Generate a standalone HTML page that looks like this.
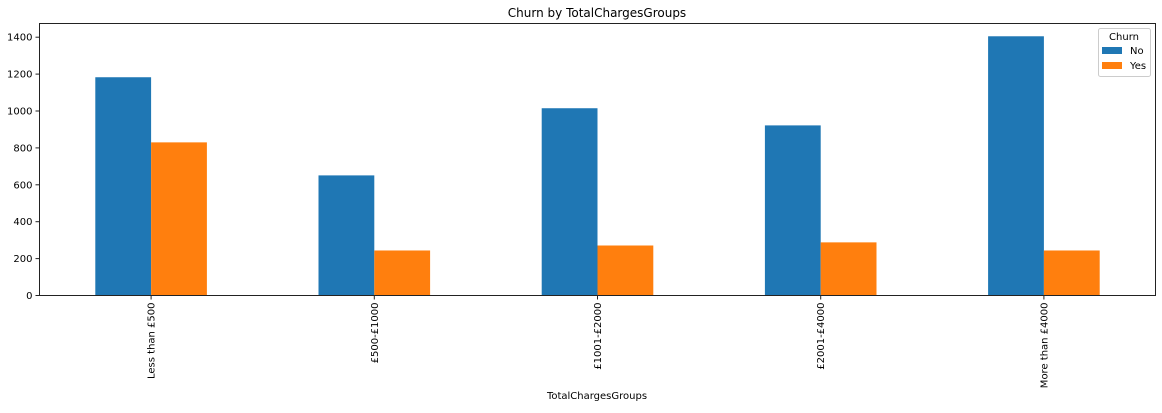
<!DOCTYPE html>
<html><head><meta charset="utf-8"><style>
body{margin:0;background:#fff;font-family:"Liberation Sans","DejaVu Sans",sans-serif;}
svg text{font-family:"DejaVu Sans","Liberation Sans",sans-serif;}
</style></head><body>
<svg id="chart" width="1162" height="408" xmlns="http://www.w3.org/2000/svg">
<text x="597" y="17" text-anchor="middle" font-size="12">Churn by TotalChargesGroups</text>
<text x="597" y="399" text-anchor="middle" font-size="10">TotalChargesGroups</text>
<g id="marks"></g>
<rect x="39.5" y="23.5" width="1116" height="272" fill="none" stroke="#222" stroke-width="1"/>
<g>
<rect x="1098.5" y="28.5" width="52" height="48" rx="2" fill="#fff" stroke="#ccc"/>
<text x="1124" y="40" text-anchor="middle" font-size="10">Churn</text>
<rect x="1102" y="47" width="20" height="7" fill="#1f77b4"/>
<text x="1130" y="54" font-size="10">No</text>
<rect x="1102" y="62" width="20" height="7" fill="#ff7f0e"/>
<text x="1130" y="69" font-size="10">Yes</text>
</g>
</svg>
<script>
const categories=["Less than £500","£500-£1000","£1001-£2000","£2001-£4000","More than £4000"];
const noValues=[1183,651,1015,922,1405];
const yesValues=[830,244,271,288,244];
const yTicks=[0,200,400,600,800,1000,1200,1400];
const X0=39.5,W=1116,Y0=295.5,PX=36.9/200;
const svg=document.getElementById('marks');
const NS='http://www.w3.org/2000/svg';
const step=W/categories.length,bw=step*0.25;
const xc=i=>X0+step*(i+0.5);
const y=v=>Y0-v*PX;
function mk(t,a){const e=document.createElementNS(NS,t);for(const k in a)e.setAttribute(k,a[k]);svg.appendChild(e);return e;}
yTicks.forEach(v=>{
 const l=mk('line',{x1:X0-4,x2:X0,y1:y(v),y2:y(v),stroke:'#222'});
 
 
 const t=mk('text',{x:X0-7,y:y(v)+3.5,'text-anchor':'end','font-size':10});
 
 
 t.textContent=v;
});
categories.forEach((c,i)=>{
 const b1=mk('rect',{x:xc(i)-bw,y:y(noValues[i]),width:bw,height:noValues[i]*PX,fill:'#1f77b4'});
 
 
 const b2=mk('rect',{x:xc(i),y:y(yesValues[i]),width:bw,height:yesValues[i]*PX,fill:'#ff7f0e'});
 
 
 const tk=mk('line',{x1:xc(i),x2:xc(i),y1:Y0,y2:Y0+4,stroke:'#222'});
 
 
 const t=mk('text',{x:0,y:0,'text-anchor':'end','font-size':10,transform:`translate(${xc(i)+3.5},${Y0+7}) rotate(-90)`});
 
 
 t.textContent=c;
});
</script>
</body></html>
